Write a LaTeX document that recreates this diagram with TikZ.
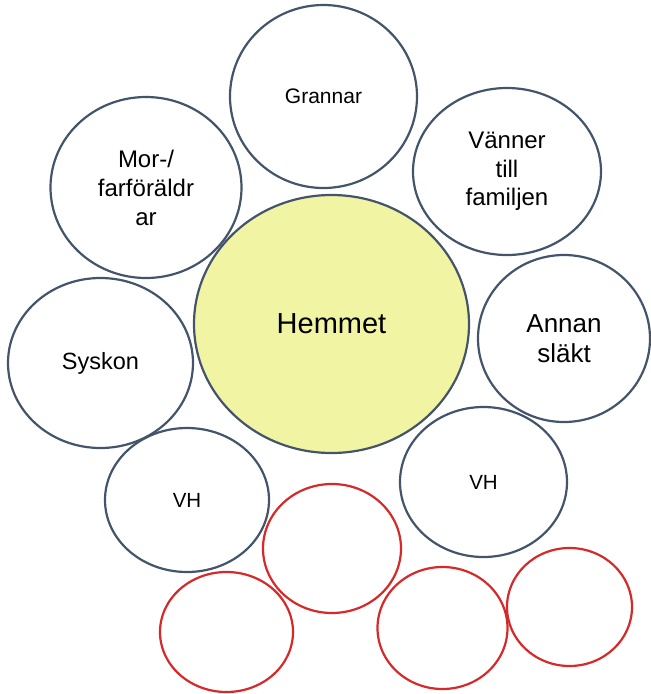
\documentclass[tikz,border=0pt]{standalone}
\usepackage{fontspec}
\setmainfont{Liberation Sans}
\usetikzlibrary{shapes.geometric}
\definecolor{outl}{RGB}{68,84,106}
\definecolor{hfill}{RGB}{241,244,163}
\definecolor{redl}{RGB}{214,42,42}
\tikzset{
  bub/.style={ellipse, draw=outl, line width=2.2pt, inner sep=0pt, align=center, fill=white},
  redbub/.style={ellipse, draw=redl, line width=2.2pt, inner sep=0pt, fill=white}
}
\begin{document}
\begin{tikzpicture}[x=1pt,y=-1pt]
\useasboundingbox (0,0) rectangle (651,694);
\node[bub, minimum width=187pt, minimum height=183pt, font=\fontsize{21}{25}\selectfont] (gr) at (323.5,96.5) {Grannar};
\node[bub, minimum width=191pt, minimum height=181pt, font=\fontsize{24}{29}\selectfont] (mf) at (146,187.5) {Mor-/\\farföräldr\\ar};
\node[bub, minimum width=188pt, minimum height=167pt, font=\fontsize{24}{28.5}\selectfont] (vf) at (507,171.5) {Vänner\\till\\familjen};
\node[bub, minimum width=185pt, minimum height=170pt, font=\fontsize{23.5}{28}\selectfont] (sy) at (100.5,363) {Syskon};
\node[bub, minimum width=172pt, minimum height=167pt, font=\fontsize{26}{30}\selectfont] (as) at (564,338.5) {Annan\\släkt};
\node[bub, fill=hfill, minimum width=275pt, minimum height=258pt, font=\fontsize{29}{34}\selectfont] (hm) at (331.5,324) {Hemmet};
\node[bub, minimum width=164pt, minimum height=144pt, font=\fontsize{20.5}{24}\selectfont] (vh1) at (187,500) {VH};
\node[bub, minimum width=167pt, minimum height=150pt, font=\fontsize{20.5}{24}\selectfont] (vh2) at (483.5,482) {VH};
\node[redbub, minimum width=138pt, minimum height=129pt] (r1) at (332,548.5) {};
\node[redbub, minimum width=133pt, minimum height=120pt] (r2) at (226.5,632) {};
\node[redbub, minimum width=130pt, minimum height=122pt] (r3) at (442.5,628) {};
\node[redbub, minimum width=125pt, minimum height=118pt] (r4) at (569.5,607) {};
\end{tikzpicture}
\end{document}
